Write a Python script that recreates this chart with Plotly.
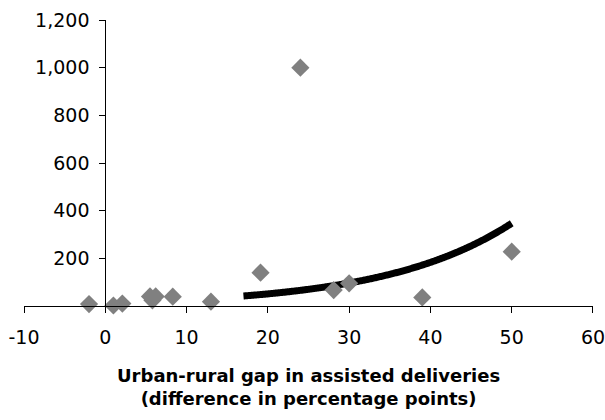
import numpy as np
import plotly.graph_objects as go

# Data points (urban-rural gap, value)
gap_x = [-2, 1, 2.1, 5.5, 6.2, 5.8, 8.3, 13, 19.1, 24, 28.1, 30, 39, 50]
val_y = [8, 2, 10, 40, 40, 24, 39, 18, 140, 1000, 67, 95, 36, 228]

# Exponential trendline parameters (y = a * exp(b * x))
trend_a = 14.15
trend_b = 0.064
trend_x_start = 17
trend_x_end = 50

x_ticks = [-10, 0, 10, 20, 30, 40, 50, 60]
x_tick_text = ["-10", "0", "10", "20", "30", "40", "50", "60"]
y_ticks = [200, 400, 600, 800, 1000, 1200]
y_tick_text = ["200", "400", "600", "800", "1,000", "1,200"]

tx = np.linspace(trend_x_start, trend_x_end, 300)
ty = trend_a * np.exp(trend_b * tx)

FONT = "DejaVu Sans"
W, H = 605, 420
L, R, T, B = 24, 12, 20, 114
plot_h = H - T - B
plot_bottom = H - B

fig = go.Figure()
fig.add_trace(go.Scatter(
    x=tx, y=ty, mode="lines",
    line=dict(color="black", width=7, simplify=False),
    cliponaxis=False, hoverinfo="skip", showlegend=False,
))
fig.add_trace(go.Scatter(
    x=gap_x, y=val_y, mode="markers",
    marker=dict(symbol="diamond", color="#808080", size=14, line=dict(width=0)),
    cliponaxis=False, showlegend=False,
))

y_pos = (0 - (-10)) / (60 - (-10))

fig.update_layout(
    width=W, height=H,
    margin=dict(l=L, r=R, t=T, b=B, autoexpand=False),
    paper_bgcolor="white", plot_bgcolor="white",
    font=dict(family=FONT, size=19, color="black"),
    xaxis=dict(
        range=[-10, 60.001], tickvals=x_ticks, ticktext=x_tick_text,
        showgrid=False, zeroline=False,
        showline=True, linecolor="black", linewidth=1,
        ticks="outside", ticklen=6, tickcolor="black",
        tickfont=dict(size=19), automargin=False,
        ticklabelstandoff=8, ticklabeloverflow="allow",
        domain=[0, 1],
    ),
    yaxis=dict(
        range=[0, 1200.01], tickvals=y_ticks, ticktext=y_tick_text,
        showgrid=False, zeroline=False,
        showline=True, linecolor="black", linewidth=1,
        ticks="outside", ticklen=6, tickcolor="black",
        tickfont=dict(size=19), automargin=False,
        ticklabelstandoff=6, ticklabeloverflow="allow",
        anchor="free", position=y_pos,
    ),
    annotations=[dict(
        text="<b>Urban-rural gap in assisted deliveries<br>(difference in percentage points)</b>",
        xref="paper", yref="paper", x=0.5, y=-(387 - plot_bottom) / plot_h,
        xanchor="center", yanchor="middle", showarrow=False,
        font=dict(family=FONT, size=18, color="black"),
    )],
)

fig.write_html(
    "out.html",
    config={"displayModeBar": False},
    post_script="document.body.style.margin='0';document.body.style.overflow='hidden';",
)
